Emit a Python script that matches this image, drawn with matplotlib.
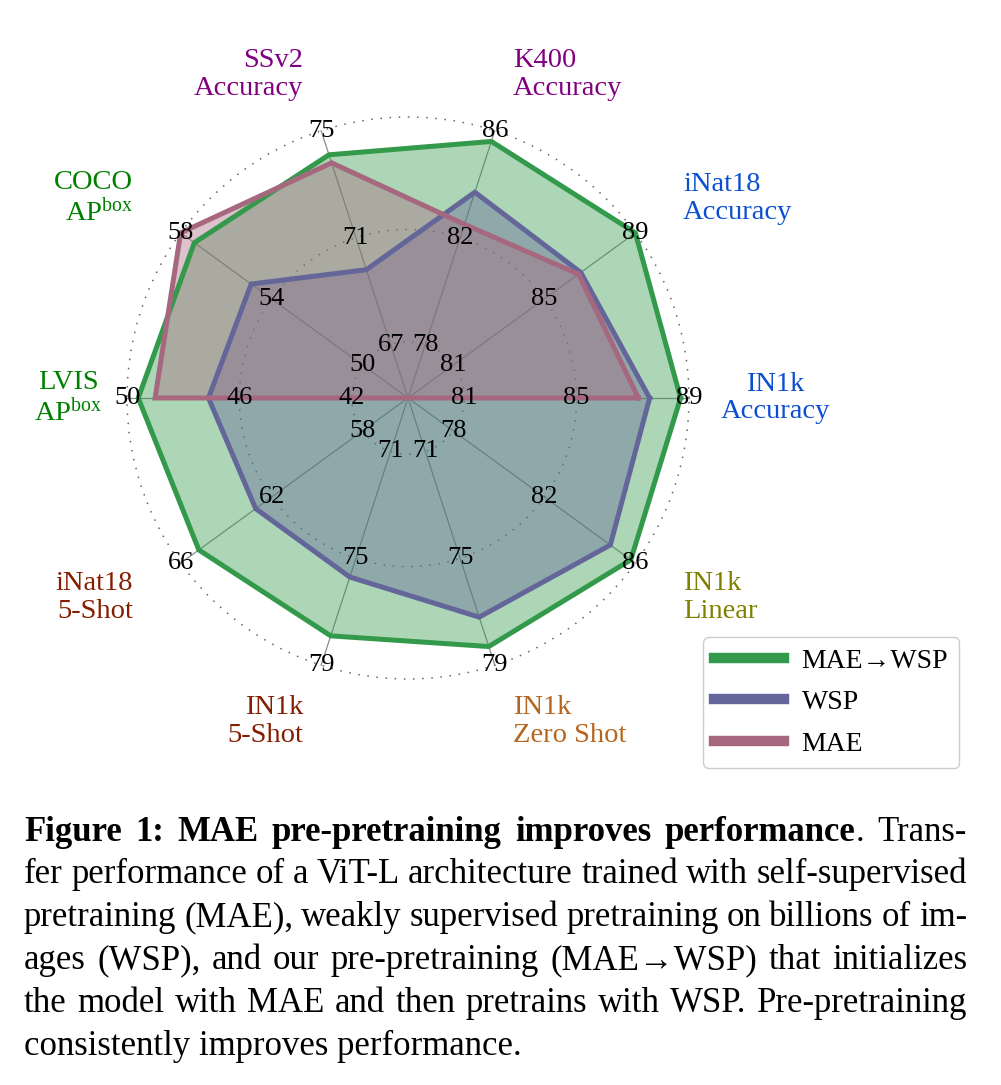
import matplotlib
matplotlib.use("Agg")
import matplotlib.pyplot as plt
from matplotlib.lines import Line2D
from matplotlib.transforms import IdentityTransform
import numpy as np

plt.rcParams['font.family'] = ['Liberation Serif', 'DejaVu Serif']
plt.rcParams['mathtext.fontset'] = 'custom'
plt.rcParams['mathtext.rm'] = 'Liberation Serif'
plt.rcParams['mathtext.it'] = 'Liberation Serif:italic'
plt.rcParams['mathtext.bf'] = 'Liberation Serif:bold'
plt.rcParams['mathtext.fallback'] = 'stix'

# Data (counter-clockwise from the right)
CATEGORIES = ["IN1k\nAccuracy", "iNat18\nAccuracy", "K400\nAccuracy", "SSv2\nAccuracy",
              "COCO\nAP$^{\\mathrm{box}}$", "LVIS\nAP$^{\\mathrm{box}}$", "iNat18\n5-Shot",
              "IN1k\n5-Shot", "IN1k\nZero Shot", "IN1k\nLinear"]
TICK_VALUES = [[81, 85, 89], [81, 85, 89], [78, 82, 86], [67, 71, 75], [50, 54, 58],
               [42, 46, 50], [58, 62, 66], [71, 75, 79], [71, 75, 79], [78, 82, 86]]
MAE_WSP = [88.7, 89.0, 85.6, 74.1, 57.4, 49.6, 65.2, 77.9, 78.3, 85.8]
WSP = [87.6, 86.6, 83.7, 69.8, 54.9, 47.1, 62.7, 75.7, 77.2, 84.9]
MAE = [87.2, 86.5, 82.5, 73.8, 58.0, 49.0, None, None, None, None]
SERIES_NAMES = ["MAE\u2192WSP", "WSP", "MAE"]

LABEL_COLORS = ['#0a4fd1', '#0a4fd1', '#800080', '#800080', '#008000', '#008000',
                '#851e00', '#851e00', '#b5651d', '#808000']
LABEL_HA = ['center', 'left', 'left', 'right', 'right', 'center', 'right', 'right', 'left', 'left']
LABEL_R = [1.307, 1.21, 1.21, 1.21, 1.21, 1.21, 1.21, 1.21, 1.21, 1.21]
SERIES_COLORS = ['#339a4b', '#646699', '#a6687f']

W, H = 1001, 1085
CX, CY, R = 408, 398, 281   # centre (px from top-left) and outer radius
RMAX = 1.1

fig = plt.figure(figsize=(W / 100, H / 100), dpi=100)
half = R * RMAX
ax = fig.add_axes([(CX - half) / W, (H - CY - half) / H, 2 * half / W, 2 * half / H],
                  projection='polar')

n = len(CATEGORIES)
theta = np.deg2rad(np.arange(n) * 360.0 / n)


def to_r(vals):
    out = []
    for v, t in zip(vals, TICK_VALUES):
        if v is None:
            out.append(0.0)
        else:
            out.append(0.2 + (v - t[0]) / (t[2] - t[0]) * 0.8)
    return np.array(out)


ax.set_ylim(0, RMAX)
ax.set_xticks(theta)
ax.set_xticklabels([])
ax.set_yticks([0.2, 0.6, 1.0])
ax.set_yticklabels([])
ax.spines['polar'].set_visible(False)
ax.xaxis.grid(False)
ax.yaxis.grid(True, color='#666666', ls=(0, (1, 5)), lw=1.1)
for t in theta:
    ax.plot([t, t], [0, 1.0], color='#8c8c8c', lw=0.9, zorder=1)

for vals, c in zip([MAE_WSP, WSP, MAE], SERIES_COLORS):
    r = to_r(vals)
    tt = np.append(theta, theta[0])
    rr = np.append(r, r[0])
    ax.fill(tt, rr, color=c, alpha=0.4, lw=0, zorder=2)
    ax.plot(tt, rr, color=c, lw=3.6, solid_joinstyle='miter', zorder=3)

for i, t in enumerate(theta):
    for k, rv in enumerate([0.2, 0.6, 1.0]):
        ax.text(t, rv, str(TICK_VALUES[i][k]), ha='center', va='center',
                fontsize=19, color='black', zorder=10)
    ax.text(t, LABEL_R[i], CATEGORIES[i], ha=LABEL_HA[i], va='center', ma=LABEL_HA[i],
            fontsize=20.5, color=LABEL_COLORS[i], linespacing=1.15, zorder=10)

handles = [Line2D([0], [0], color=c, lw=7.5) for c in SERIES_COLORS]
fig.legend(handles, SERIES_NAMES, loc='upper left',
           bbox_to_anchor=(703 / W, 1 - 637 / H), bbox_transform=fig.transFigure,
           fontsize=20, frameon=True, fancybox=True, edgecolor='#cccccc',
           framealpha=1, borderaxespad=0, borderpad=0.4, labelspacing=0.58,
           handlelength=2.5, handletextpad=0.65)

# Caption, justified
CAP_FS = 25
CAP_LEFT, CAP_RIGHT = 24, 967
CAP_BASELINES = [841, 883, 926, 969, 1012, 1055]
CAPTION_LINES = [
    [[("Figure", 'bold')], [("1:", 'bold')], [("MAE", 'bold')], [("pre-pretraining", 'bold')],
     [("improves", 'bold')], [("performance", 'bold'), (".", 'normal')], [("Trans-", 'normal')]],
    "fer performance of a ViT-L architecture trained with self-supervised",
    "pretraining (MAE), weakly supervised pretraining on billions of im-",
    "ages (WSP), and our pre-pretraining (MAE\u2192WSP) that initializes",
    "the model with MAE and then pretrains with WSP. Pre-pretraining",
    "consistently improves performance.",
]

renderer = fig.canvas.get_renderer()
tr = IdentityTransform()
for li, line in enumerate(CAPTION_LINES):
    y = H - CAP_BASELINES[li]
    if isinstance(line, str):
        if li == len(CAPTION_LINES) - 1:
            fig.text(CAP_LEFT, y, line, transform=tr, fontsize=CAP_FS, va='baseline', ha='left')
            continue
        tokens = [[(w, 'normal')] for w in line.split(' ')]
    else:
        tokens = line
    items = []
    total = 0
    for tok in tokens:
        parts = []
        tw = 0
        for s, wt in tok:
            t = fig.text(0, y, s, transform=tr, fontsize=CAP_FS, fontweight=wt,
                         va='baseline', ha='left')
            w = t.get_window_extent(renderer).width
            parts.append((t, w))
            tw += w
        items.append(parts)
        total += tw
    gap = (CAP_RIGHT - CAP_LEFT - total) / (len(items) - 1)
    x = CAP_LEFT
    for parts in items:
        for t, w in parts:
            t.set_x(x)
            x += w
        x += gap

fig.savefig('out.png', dpi=100)
